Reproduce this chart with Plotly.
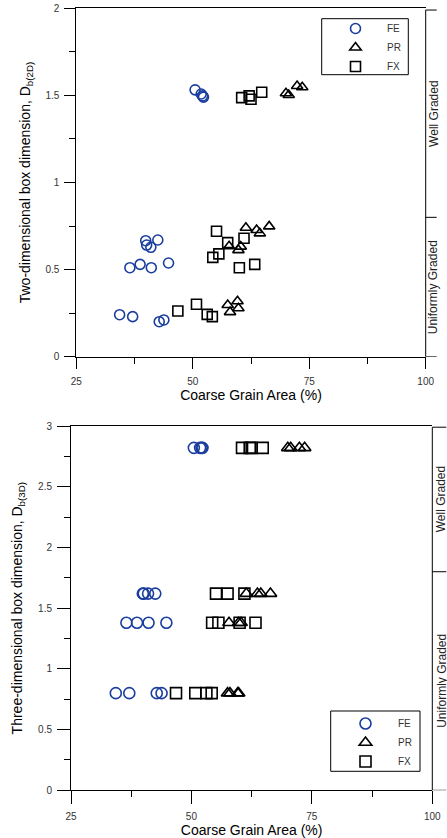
import plotly.graph_objects as go

# ---- data ----
FE_x = [50.5, 51.8, 52.1, 52.3, 39.9, 40.1, 41.0, 42.5, 36.5, 38.7, 41.1, 44.8, 34.3, 37.1, 42.8, 43.8]
FE_2d = [1.532, 1.508, 1.497, 1.490, 0.666, 0.641, 0.628, 0.670, 0.511, 0.530, 0.511, 0.538, 0.241, 0.230, 0.201, 0.211]
FE_3d = [2.82, 2.82, 2.82, 2.82, 1.62, 1.62, 1.62, 1.62, 1.38, 1.38, 1.38, 1.38, 0.80, 0.80, 0.80, 0.80]

PR_x = [70.0, 70.6, 72.4, 73.5, 61.4, 63.7, 64.4, 66.4, 57.8, 59.8, 60.3, 57.5, 59.6, 58.0, 59.8]
PR_2d = [1.512, 1.502, 1.554, 1.547, 0.740, 0.727, 0.708, 0.748, 0.634, 0.612, 0.632, 0.297, 0.318, 0.256, 0.278]
PR_3d = [2.82, 2.82, 2.82, 2.82, 1.62, 1.62, 1.62, 1.62, 1.38, 1.38, 1.38, 0.80, 0.80, 0.80, 0.80]

FX_x = [60.5, 62.1, 62.5, 64.8, 55.1, 57.5, 61.0, 54.3, 55.6, 60.0, 63.3, 46.8, 50.8, 53.1, 54.2]
FX_2d = [1.487, 1.497, 1.478, 1.518, 0.720, 0.655, 0.680, 0.570, 0.590, 0.511, 0.530, 0.262, 0.301, 0.243, 0.230]
FX_3d = [2.82, 2.82, 2.82, 2.82, 1.62, 1.62, 1.62, 1.38, 1.38, 1.38, 1.38, 0.80, 0.80, 0.80, 0.80]

X_TICKS = [25, 50, 75, 100]
GRADE_LABELS = ["Well Graded", "Uniformly Graded"]
GRADE_BOUNDS_2D = [0, 0.8, 1.99]
GRADE_BOUNDS_3D = [0, 1.8, 2.99]

FONT = "Liberation Sans, Arial, sans-serif"
BLUE = "#1a3e9e"
W, H = 447, 838

fig = go.Figure()
series = [
    ("FE", FE_x, FE_2d, FE_3d, "circle-open", BLUE),
    ("PR", PR_x, PR_2d, PR_3d, "triangle-up-open", "black"),
    ("FX", FX_x, FX_2d, FX_3d, "square-open", "black"),
]
for name, xs, y2d, y3d, sym, col in series:
    fig.add_trace(go.Scatter(
        x=xs, y=y2d, mode="markers", name=name, xaxis="x", yaxis="y", legend="legend",
        marker=dict(symbol=sym, size=10, color=col, line=dict(width=1.6, color=col)),
    ))
    fig.add_trace(go.Scatter(
        x=xs, y=y3d, mode="markers", name=name, xaxis="x2", yaxis="y2", legend="legend2",
        marker=dict(symbol=sym, size=11, color=col, line=dict(width=1.6, color=col)),
    ))

tickfont = dict(family=FONT, size=10, color="#333333")
titlefont = dict(family=FONT, size=14, color="black")


def xax(domain, anchor, ticklen):
    return dict(
        domain=domain, anchor=anchor, range=[25, 100], tickvals=X_TICKS,
        ticks="outside", ticklen=ticklen, tickcolor="black", tickwidth=1,
        minor=dict(ticks="outside", ticklen=6, dtick=12.5, tick0=25, tickcolor="black"),
        showline=True, linecolor="black", linewidth=1, mirror=True,
        showgrid=False, zeroline=False, tickfont=tickfont, ticklabelstandoff=4,
        automargin=False,
        title=dict(text="Coarse Grain Area (%)", font=titlefont, standoff=2),
    )


def yax(domain, anchor, rng, ticklen, title, standoff):
    return dict(
        domain=domain, anchor=anchor, range=rng, dtick=0.5, tick0=0,
        ticks="outside", ticklen=ticklen, tickcolor="black", tickwidth=1,
        minor=dict(ticks="outside", ticklen=6, dtick=0.25, tick0=0, tickcolor="black"),
        showline=True, linecolor="black", linewidth=1,
        showgrid=False, zeroline=False, tickfont=tickfont, ticklabelstandoff=3,
        automargin=False,
        title=dict(text=title, font=titlefont, standoff=standoff),
    )


top_x = [76.3 / W, 425.7 / W]
top_y = [1 - 356.7 / H, 1 - 8.3 / H]
bot_x = [71.0 / W, 432.3 / W]
bot_y = [1 - 790.3 / H, 1 - 426.0 / H]

fig.update_layout(
    width=W, height=H, margin=dict(l=0, r=0, t=0, b=0, autoexpand=False),
    paper_bgcolor="white", plot_bgcolor="white",
    font=dict(family=FONT),
    xaxis=xax(top_x, "y", 11),
    yaxis=yax(top_y, "x", [0, 2], 11, "Two-dimensional box dimension, D<sub>b(2D)</sub>", 11),
    xaxis2=xax(bot_x, "y2", 13),
    yaxis2=yax(bot_y, "x2", [0, 3], 13, "Three-dimensional box dimension, D<sub>b(3D)</sub>", 12),
    legend=dict(x=324 / W, y=1 - 14 / H, xanchor="left", yanchor="top",
                bgcolor="rgba(0,0,0,0)", borderwidth=0, itemwidth=53,
                font=dict(family=FONT, size=10, color="#333333")),
    legend2=dict(x=333 / W, y=1 - 709 / H, xanchor="left", yanchor="top",
                 bgcolor="rgba(0,0,0,0)", borderwidth=0, itemwidth=55,
                 font=dict(family=FONT, size=10, color="#333333")),
    showlegend=True,
)

# legend frames
fig.add_shape(type="rect", xref="paper", yref="paper",
              x0=321.7 / W, x1=408.3 / W, y0=1 - 74.7 / H, y1=1 - 18.7 / H,
              line=dict(color="black", width=1))
fig.add_shape(type="rect", xref="paper", yref="paper",
              x0=330.7 / W, x1=420.0 / W, y0=1 - 771.3 / H, y1=1 - 711.0 / H,
              line=dict(color="black", width=1))

# right-hand grading axis (line + ticks at the class bounds) and its labels
for xr, yr, bounds, ticklen, dom, shift in [
        ("x domain", "y", GRADE_BOUNDS_2D, 11, top_x, 7.5),
        ("x2 domain", "y2", GRADE_BOUNDS_3D, 14, bot_x, 9.5)]:
    tick_frac = ticklen / ((dom[1] - dom[0]) * W)
    fig.add_shape(type="line", xref=xr, yref=yr, x0=1, x1=1, y0=bounds[0], y1=bounds[-1],
                  line=dict(color="black", width=1))
    for b in bounds:
        fig.add_shape(type="line", xref=xr, yref=yr, x0=1, x1=1 + tick_frac, y0=b, y1=b,
                      line=dict(color="black", width=1))
    mids = [(bounds[1] + bounds[2]) / 2, (bounds[0] + bounds[1]) / 2]
    for lab, m in zip(GRADE_LABELS, mids):
        fig.add_annotation(xref=xr, yref=yr, x=1, y=m, text=lab, textangle=-90,
                           showarrow=False, xanchor="center", yanchor="middle", xshift=shift,
                           font=dict(family=FONT, size=12, color="#222222"))

fig.write_html(
    "out.html",
    config={"displayModeBar": False},
    post_script="document.body.style.margin='0';document.body.style.overflow='hidden';",
)
